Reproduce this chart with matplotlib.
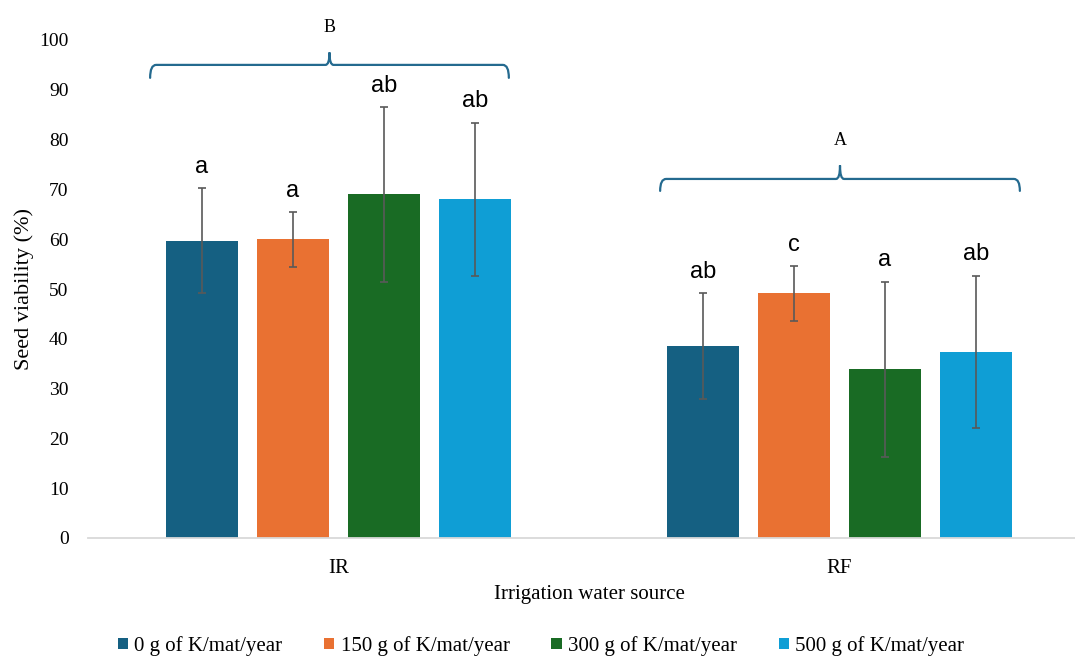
import matplotlib.pyplot as plt
from matplotlib.path import Path
from matplotlib.patches import PathPatch
import numpy as np

# data
sources = ['IR', 'RF']
treatments = ['0 g of K/mat/year', '150 g of K/mat/year',
              '300 g of K/mat/year', '500 g of K/mat/year']
viability = [[59.7, 38.6],   # 0 g
             [60.0, 49.1],   # 150 g
             [69.0, 33.9],   # 300 g
             [68.0, 37.4]]   # 500 g
errors = [[10.5, 10.6],
          [5.5, 5.5],
          [17.5, 17.6],
          [15.4, 15.3]]
letters = [['a', 'ab'],
           ['a', 'c'],
           ['ab', 'a'],
           ['ab', 'ab']]
group_letters = ['B', 'A']
colors = ['#156082', '#E97132', '#196B24', '#0F9ED5']

serif = 'Liberation Serif'
sans = 'Liberation Sans'


def brace(ax, x0, x1, y, drop, rise, label, label_y, color='#246a8f'):
    xc = (x0 + x1) / 2
    dx, dt = 0.012, 0.008
    verts = [(x0, y - drop), (x0, y), (x0 + dx, y),
             (xc - dt, y), (xc, y), (xc, y + rise),
             (xc, y), (xc + dt, y),
             (x1 - dx, y), (x1, y), (x1, y - drop)]
    codes = [Path.MOVETO, Path.CURVE3, Path.CURVE3,
             Path.LINETO, Path.CURVE3, Path.CURVE3,
             Path.CURVE3, Path.CURVE3,
             Path.LINETO, Path.CURVE3, Path.CURVE3]
    ax.add_patch(PathPatch(Path(verts, codes), fill=False, edgecolor=color,
                           lw=1.6, clip_on=False, capstyle='round'))
    ax.text(xc, label_y, label, ha='center', va='center', fontsize=13,
            family=serif, clip_on=False)


fig = plt.figure(figsize=(10.75, 6.6), dpi=100)
ax = fig.add_axes([88 / 1075, 122 / 660, 1002 / 1075, 498 / 660])

x = np.arange(len(sources))
step, width = 0.1816, 0.1437
for i, name in enumerate(treatments):
    pos = x + (i - 1.5) * step
    ax.bar(pos, viability[i], width, color=colors[i], label=name, zorder=2)
    ax.errorbar(pos, viability[i], yerr=errors[i], fmt='none', ecolor='#595959',
                elinewidth=1.2, capsize=3, capthick=1.2, zorder=3)
    for p, v, e, t in zip(pos, viability[i], errors[i], letters[i]):
        ax.annotate(t, (p, v + e), xytext=(0, 11), textcoords='offset points',
                    ha='center', va='baseline', fontsize=17, family=sans)

brace(ax, -0.376, 0.340, 95.0, 2.6, 2.5, group_letters[0], 102.6)
brace(ax, 0.642, 1.360, 72.1, 2.4, 2.7, group_letters[1], 79.9)

ax.set_xlim(-0.5, 1.5)
ax.set_ylim(0, 100)
ax.set_yticks(np.arange(0, 101, 10))
ax.set_xticks(x)
ax.set_xticklabels(sources)
for s in ['top', 'right', 'left']:
    ax.spines[s].set_visible(False)
ax.spines['bottom'].set_color('#d9d9d9')
ax.spines['bottom'].set_linewidth(1.3)
ax.tick_params(axis='y', length=0, pad=14, labelsize=14)
ax.tick_params(axis='x', length=0, pad=15, labelsize=15)
for lab in ax.get_xticklabels() + ax.get_yticklabels():
    lab.set_family(serif)

ax.set_xlabel('Irrigation water source', family=serif, fontsize=15, labelpad=5)
ax.set_ylabel('Seed viability (%)', family=serif, fontsize=16, labelpad=4)

fig.legend(loc='center', bbox_to_anchor=(541 / 1075, 1 - 646 / 660), ncol=4,
           frameon=False, prop={'family': serif, 'size': 15},
           handlelength=0.5, handleheight=0.5, handletextpad=0.3,
           columnspacing=2.0)

fig.savefig('out.png', dpi=100)
